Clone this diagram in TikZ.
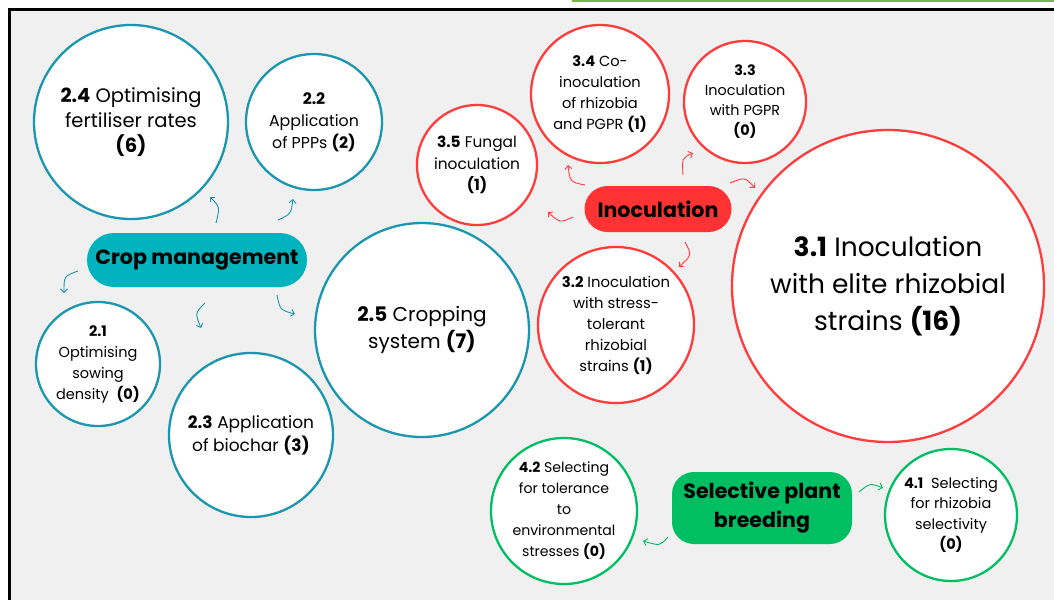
\documentclass[tikz,border=0pt]{standalone}
\usepackage{fontspec}
\setmainfont{Poppins}
\usetikzlibrary{arrows.meta}
\definecolor{tealc}{HTML}{1A97AF}
\definecolor{tealf}{HTML}{00B3BC}
\definecolor{redc}{HTML}{FF3B3B}
\definecolor{redf}{HTML}{FF3333}
\definecolor{greenc}{HTML}{00BF63}
\definecolor{greenf}{HTML}{00BF63}
\definecolor{bgc}{HTML}{F0F0F0}
\definecolor{topgreen}{HTML}{7DB83E}
\newcommand{\fs}[2]{\fontsize{#1}{#2}\selectfont}
\begin{document}
\begin{tikzpicture}[x=1pt,y=-1pt,
  circ/.style={circle, draw=#1, fill=white, line width=2.3pt, inner sep=0pt},
  txt/.style={align=center, inner sep=0pt, text=black},
  pill/.style={fill=#1, inner sep=0pt, text=black, align=center, font=\fs{20.6}{29}\bfseries},
  arr/.style={draw=#1, line width=0.9pt, -{Straight Barb[length=3.5pt,width=7pt]}}]
\useasboundingbox (0,0) rectangle (1054,600);
\fill[white] (0,0) rectangle (1054,600);
\fill[bgc] (9,9) rectangle (1054,600);
\draw[line width=3pt] (9.5,600) -- (9.5,9.5) -- (1054,9.5);
\fill[topgreen] (572,0) rectangle (1054,1.5);

% Crop management
\node[circ=tealc, minimum size=194pt] (c24) at (131,122) {};
\node[circ=tealc, minimum size=136pt] (c22) at (314,122) {};
\node[circ=tealc, minimum size=124pt] (c21) at (98,364) {};
\node[circ=tealc, minimum size=164pt] (c23) at (251,435) {};
\node[circ=tealc, minimum size=214pt] (c25) at (422,330) {};
\node[txt, font=\fs{19.5}{25}] (t24) at (c24) {\textbf{2.4} Optimising\\fertiliser rates\\\textbf{(6)}};
\node[txt, font=\fs{15.8}{22}] (t22) at (c22) {\textbf{2.2}\\Application\\of PPPs \textbf{(2)}};
\node[txt, font=\fs{14.5}{21}] (t21) at (c21) {\textbf{2.1}\\Optimising\\sowing\\density~ \textbf{(0)}};
\node[txt, font=\fs{17}{23}] (t23) at (c23) {\textbf{2.3} Application\\of biochar \textbf{(3)}};
\node[txt, font=\fs{20}{27}] (t25) at (c25) {\textbf{2.5} Cropping\\system \textbf{(7)}};
\node[pill=tealf, minimum width=220pt, minimum height=54pt, rounded corners=27pt] (cm) at (197,260) {Crop management};

% Inoculation
\node[circ=redc, minimum size=138pt] (c34) at (600,94) {};
\node[circ=redc, minimum size=122pt] (c33) at (745,102) {};
\node[circ=redc, minimum size=120pt] (c35) at (477,165) {};
\node[circ=redc, minimum size=312pt] (c31) at (888,286) {};
\node[circ=redc, minimum size=156pt] (c32) at (616,325) {};
\node[txt, font=\fs{14.6}{21}] (t34) at (c34) {\textbf{3.4} Co-\\inoculation\\of rhizobia\\and PGPR \textbf{(1)}};
\node[txt, font=\fs{14.4}{20}] (t33) at (c33) {\textbf{3.3}\\Inoculation\\with PGPR\\\textbf{(0)}};
\node[txt, font=\fs{15.4}{21.5}] (t35) at (c35) {\textbf{3.5} Fungal\\inoculation\\\textbf{(1)}};
\node[txt, font=\fs{26.5}{37}] (t31) at (c31) {\textbf{3.1} Inoculation\\with elite rhizobial\\strains \textbf{(16)}};
\node[txt, font=\fs{14.8}{21}] (t32) at (c32) {\textbf{3.2} Inoculation\\with stress-\\tolerant\\rhizobial\\strains \textbf{(1)}};
\node[pill=redf, minimum width=147pt, minimum height=46pt, rounded corners=23pt] (ino) at (658,209) {Inoculation};

% Selective plant breeding
\node[circ=greenc, minimum size=146pt] (c42) at (564,511) {};
\node[circ=greenc, minimum size=132pt] (c41) at (951,515) {};
\node[txt, font=\fs{14.1}{21}] (t42) at (c42) {\textbf{4.2} Selecting\\for tolerance\\to\\environmental\\stresses \textbf{(0)}};
\node[txt, font=\fs{14.5}{20.5}] (t41) at (c41) {\textbf{4.1}~ Selecting\\for rhizobia\\selectivity\\\textbf{(0)}};
\node[pill=greenf, minimum width=180pt, minimum height=72pt, rounded corners=22pt] (spb) at (762,508) {Selective plant\\breeding};

% arrow end points
\coordinate (a1s) at (216,223); \coordinate (a1e) at (210,197);
\coordinate (a2s) at (278,220); \coordinate (a2e) at (293,199);
\coordinate (a3s) at (78,271);  \coordinate (a3e) at (64,293);
\coordinate (a4s) at (205,303); \coordinate (a4e) at (201,328);
\coordinate (a5s) at (277,295); \coordinate (a5e) at (295,314);
\coordinate (a6s) at (573,217); \coordinate (a6e) at (548,212);
\coordinate (a7s) at (585,185); \coordinate (a7e) at (568,165);
\coordinate (a8s) at (683,175); \coordinate (a8e) at (693,153);
\coordinate (a9s) at (730,183); \coordinate (a9e) at (755,188);
\coordinate (a10s) at (685,242); \coordinate (a10e) at (679,267);
\coordinate (a11s) at (859,492); \coordinate (a11e) at (883,488);
\coordinate (a12s) at (668,537); \coordinate (a12e) at (643,541);

\draw[arr=tealc] (a1s) .. controls (220,207) .. (a1e);
\draw[arr=tealc] (a2s) .. controls (291,214) .. (a2e);
\draw[arr=tealc] (a3s) .. controls (64,276) .. (a3e);
\draw[arr=tealc] (a4s) .. controls (195,313) .. (a4e);
\draw[arr=tealc] (a5s) .. controls (280,310) .. (a5e);
\draw[arr=redc] (a6s) .. controls (560,223) .. (a6e);
\draw[arr=redc] (a7s) .. controls (570,182) .. (a7e);
\draw[arr=redc] (a8s) .. controls (682,158) .. (a8e);
\draw[arr=redc] (a9s) .. controls (745,177) .. (a9e);
\draw[arr=redc] (a10s) .. controls (692,255) .. (a10e);
\draw[arr=greenc] (a11s) .. controls (870,483) .. (a11e);
\draw[arr=greenc] (a12s) .. controls (660,546) .. (a12e);
\end{tikzpicture}
\end{document}
